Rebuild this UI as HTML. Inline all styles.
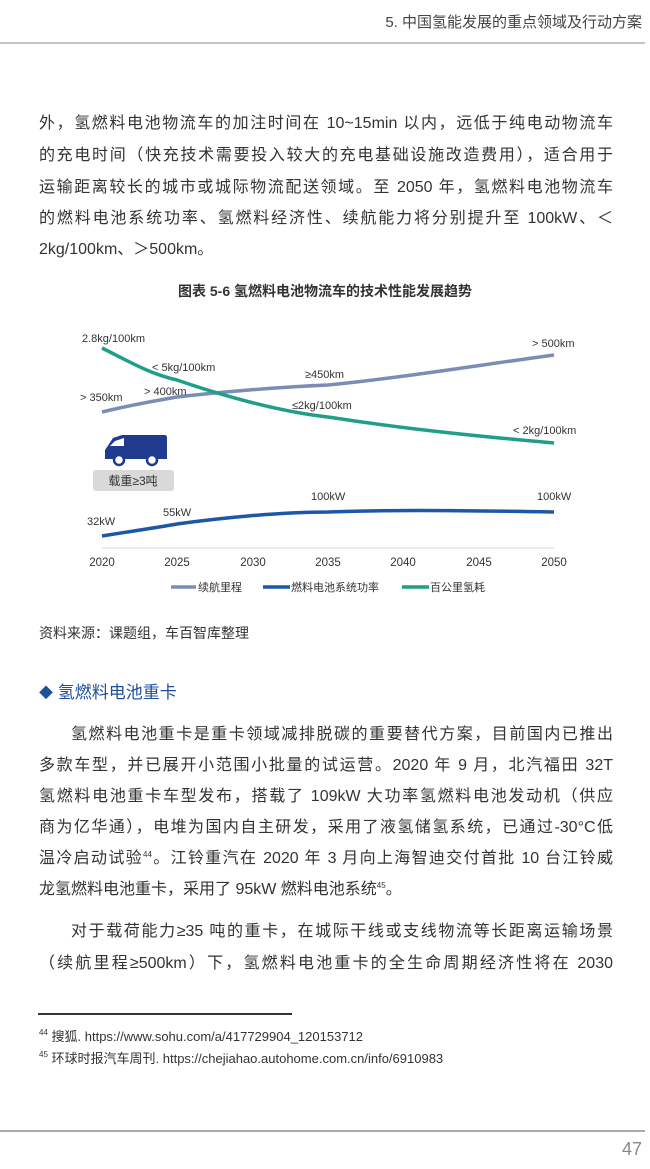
<!DOCTYPE html>
<html><head><meta charset="utf-8"><style>
body{margin:0;width:650px;height:1169px;background:#fff;position:relative;overflow:hidden;font-family:"Liberation Sans","Noto Sans CJK SC",sans-serif;color:#333}
.l{position:absolute;left:39px;width:574px;font-size:16px;line-height:20px;white-space:nowrap;text-align:justify;text-align-last:justify}
.n{text-align-last:left}
.a{position:absolute;white-space:nowrap}
sup{font-size:8px;line-height:0;vertical-align:6px}
</style></head><body>
<div class="a" style="right:8px;top:11px;font-size:15px;color:#444">5. 中国氢能发展的重点领域及行动方案</div>
<div class="a" style="left:0;top:42px;width:645px;height:2px;background:#c4c4c4"></div>

<div class="l" style="top:114px">外，氢燃料电池物流车的加注时间在 10~15min 以内，远低于纯电动物流车</div>
<div class="l" style="top:146px">的充电时间（快充技术需要投入较大的充电基础设施改造费用），适合用于</div>
<div class="l" style="top:178px">运输距离较长的城市或城际物流配送领域。至 2050 年，氢燃料电池物流车</div>
<div class="l" style="top:209px">的燃料电池系统功率、氢燃料经济性、续航能力将分别提升至 100kW、＜</div>
<div class="l n" style="top:240px">2kg/100km、＞500km。</div>

<div class="a" style="left:0;width:650px;text-align:center;top:281px;font-size:14px;font-weight:bold;color:#333">图表 5-6 氢燃料电池物流车的技术性能发展趋势</div>

<svg class="a" style="left:0;top:320px" width="650" height="290" viewBox="0 320 650 290">
<line x1="102" y1="548" x2="554" y2="548" stroke="#e6e6e6" stroke-width="1.5"/>
<path d="M102,412 C130,405 160,400 177,397 C220,392 280,387 328,385 C400,378 480,365 554,355" fill="none" stroke="#7a8db5" stroke-width="3.5"/>
<path d="M102,348 C130,362 150,374 177,380 C220,395 280,412 328,417 C380,425 440,433 554,443" fill="none" stroke="#1f9e89" stroke-width="3.5"/>
<path d="M102,536 C140,530 160,527 177,524 C220,518 280,512 328,512 C380,510 440,510 554,512" fill="none" stroke="#1d57a8" stroke-width="3.5"/>
<g font-size="11" fill="#333" font-family="Liberation Sans,sans-serif">
<text x="82" y="342">2.8kg/100km</text>
<text x="152" y="371">&lt; 5kg/100km</text>
<text x="80" y="401">&gt; 350km</text>
<text x="144" y="395">&gt; 400km</text>
<text x="305" y="378">≥450km</text>
<text x="292" y="409">≤2kg/100km</text>
<text x="532" y="347">&gt; 500km</text>
<text x="513" y="434">&lt; 2kg/100km</text>
<text x="87" y="525">32kW</text>
<text x="163" y="516">55kW</text>
<text x="311" y="500">100kW</text>
<text x="537" y="500">100kW</text>
</g>
<g font-size="11.5" fill="#333" text-anchor="middle" font-family="Liberation Sans,sans-serif">
<text x="102" y="566">2020</text><text x="177" y="566">2025</text><text x="253" y="566">2030</text><text x="328" y="566">2035</text><text x="403" y="566">2040</text><text x="479" y="566">2045</text><text x="554" y="566">2050</text>
</g>
<g font-size="11" fill="#333">
<line x1="171" y1="587" x2="196" y2="587" stroke="#7a8db5" stroke-width="3.5"/><text x="198" y="591">续航里程</text>
<line x1="263" y1="587" x2="290" y2="587" stroke="#1d57a8" stroke-width="3.5"/><text x="291" y="591">燃料电池系统功率</text>
<line x1="402" y1="587" x2="429" y2="587" stroke="#1f9e89" stroke-width="3.5"/><text x="430" y="591">百公里氢耗</text>
</g>
<path d="M105,458 L105,450 L113,438 L122,435 L165,435 Q167,435 167,438 L167,459 L105,459 Z" fill="#1f3b8f"/>
<path d="M115,441 L124,438 L124,446 L110,446 Z" fill="#fff"/>
<circle cx="119" cy="460" r="5" fill="#fff" stroke="#1f3b8f" stroke-width="2.5"/>
<circle cx="152" cy="460" r="5" fill="#fff" stroke="#1f3b8f" stroke-width="2.5"/>
<rect x="93" y="470" width="81" height="21" rx="3" fill="#d9d9d9"/>
<text x="133" y="485" font-size="12" fill="#333" text-anchor="middle">载重≥3吨</text>
</svg>

<div class="a" style="left:39px;top:623px;font-size:14px">资料来源：课题组，车百智库整理</div>
<div class="a" style="left:39px;top:678px;font-size:17px;color:#1f4e9c"><span style="font-size:14px">◆</span> <span style="color:#1f4e9c">氢燃料电池重卡</span></div>

<div class="l" style="top:725px;left:71px;width:542px">氢燃料电池重卡是重卡领域减排脱碳的重要替代方案，目前国内已推出</div>
<div class="l" style="top:756px">多款车型，并已展开小范围小批量的试运营。2020 年 9 月，北汽福田 32T</div>
<div class="l" style="top:787px">氢燃料电池重卡车型发布，搭载了 109kW 大功率氢燃料电池发动机（供应</div>
<div class="l" style="top:818px">商为亿华通），电堆为国内自主研发，采用了液氢储氢系统，已通过-30°C低</div>
<div class="l" style="top:849px">温冷启动试验<sup>44</sup>。江铃重汽在 2020 年 3 月向上海智迪交付首批 10 台江铃威</div>
<div class="l n" style="top:880px">龙氢燃料电池重卡，采用了 95kW 燃料电池系统<sup>45</sup>。</div>
<div class="l" style="top:922px;left:71px;width:542px">对于载荷能力≥35 吨的重卡，在城际干线或支线物流等长距离运输场景</div>
<div class="l" style="top:954px">（续航里程≥500km）下，氢燃料电池重卡的全生命周期经济性将在 2030</div>

<div class="a" style="left:38px;top:1013px;width:254px;height:1.5px;background:#333"></div>
<div class="a" style="left:39px;top:1026px;font-size:13px"><sup>44</sup> 搜狐. https://www.sohu.com/a/417729904_120153712</div>
<div class="a" style="left:39px;top:1048px;font-size:13px"><sup>45</sup> 环球时报汽车周刊. https://chejiahao.autohome.com.cn/info/6910983</div>
<div class="a" style="left:0;top:1130px;width:645px;height:1.5px;background:#aaa"></div>
<div class="a" style="right:8px;top:1139px;font-size:18px;color:#888">47</div>
</body></html>
